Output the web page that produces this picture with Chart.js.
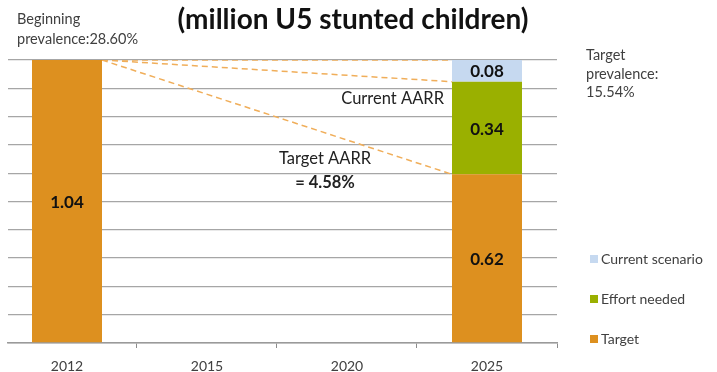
<!DOCTYPE html>
<html>
<head>
<meta charset="utf-8">
<script src="https://cdn.jsdelivr.net/npm/chart.js@4.4.1/dist/chart.umd.min.js"></script>
<style>
  html, body { margin: 0; padding: 0; background: #fff; }
  #wrap { width: 717px; height: 372px; position: relative; }
</style>
</head>
<body>
<div id="wrap"><canvas id="stuntChart" width="717" height="372"></canvas></div>
<script>
const years = ['2012', '2015', '2020', '2025'];
const targetVals = [1.04, 0, 0, 0.62];
const effortVals = [0, 0, 0, 0.34];
const currentVals = [0, 0, 0, 0.08];
const yMax = 1.04;

const FONT = 'Lato, "Open Sans", sans-serif';
const ORANGE = '#DD901F';
const GREEN = '#9AB000';
const BLUE = '#C6D9F0';
const DASH = '#F0AE5A';

const toPts = arr => arr.map((v, i) => ({ x: i, y: v }));

// dashed AARR lines: from top-right of first bar to left edge of last bar
const last = years.length - 1;
const startY = targetVals[0] + effortVals[0] + currentVals[0];
const ends = [
    targetVals[last] + effortVals[last] + currentVals[last],
    targetVals[last] + effortVals[last],
    targetVals[last]
];
const dashLine = (yEnd, key) => ({
    type: 'line',
    stack: key,
    data: [{ x: 0.25, y: startY }, { x: last - 0.25, y: yEnd }],
    borderColor: DASH,
    borderWidth: 1.5,
    borderDash: [6, 4],
    pointRadius: 0,
    fill: false,
    tension: 0
});

const textPlugin = {
    id: 'texts',
    afterDatasetsDraw(chart) {
        const c = chart.ctx;
        c.save();
        c.textBaseline = 'middle';

        // value labels inside bars
        c.textAlign = 'center';
        c.fillStyle = '#111';
        c.font = 'bold 17px ' + FONT;
        chart.data.datasets.forEach((ds, di) => {
            if (ds.type === 'line') return;
            chart.getDatasetMeta(di).data.forEach((el, i) => {
                const v = ds.data[i].y;
                if (!v) return;
                c.fillText(v.toFixed(2), el.x, (el.y + el.base) / 2 + 1);
            });
        });

        // title
        c.fillStyle = '#111';
        c.font = 'bold 28px ' + FONT;
        c.fillText('(million U5 stunted children)', 353, 20);

        c.fillStyle = '#404040';
        c.font = '14.5px ' + FONT;
        c.textAlign = 'left';
        c.fillText('Beginning', 17, 19);
        c.fillText('prevalence:28.60%', 17, 39);
        c.fillText('Target', 586, 55);
        c.fillText('prevalence:', 586, 74);
        c.fillText('15.54%', 586, 92);

        c.fillStyle = '#222';
        c.font = '16.5px ' + FONT;
        c.textAlign = 'right';
        c.fillText('Current AARR', 444, 99);
        c.textAlign = 'center';
        c.fillText('Target AARR', 325, 159);
        c.font = 'bold 16.5px ' + FONT;
        c.fillText('= 4.58%', 325, 183);

        // legend (reverse order)
        const items = chart.data.datasets.filter(d => d.type !== 'line').reverse();
        c.font = '14px ' + FONT;
        c.textAlign = 'left';
        items.forEach((d, k) => {
            const y = 259 + k * 40;
            c.fillStyle = d.backgroundColor;
            c.fillRect(590, y - 4, 8, 8);
            c.fillStyle = '#404040';
            c.fillText(d.label, 601, y);
        });
        c.restore();
    }
};

new Chart(document.getElementById('stuntChart'), {
    type: 'bar',
    data: {
        datasets: [
            { label: 'Target', data: toPts(targetVals), backgroundColor: ORANGE },
            { label: 'Effort needed', data: toPts(effortVals), backgroundColor: GREEN },
            { label: 'Current scenario', data: toPts(currentVals), backgroundColor: BLUE },
            dashLine(ends[0], 'l1'),
            dashLine(ends[1], 'l2'),
            dashLine(ends[2], 'l3')
        ]
    },
    options: {
        responsive: false,
        animation: false,
        devicePixelRatio: 1,
        layout: { padding: { top: 60, left: 8, right: 160, bottom: 0 } },
        datasets: { bar: { barPercentage: 0.5, categoryPercentage: 1.0 } },
        plugins: { legend: { display: false }, tooltip: { enabled: false } },
        scales: {
            x: {
                type: 'linear',
                stacked: true,
                offset: false,
                min: -0.4214,
                max: 3.5,
                afterBuildTicks: s => { s.ticks = years.map((y, i) => ({ value: i })); },
                afterFit: s => { s.height = 29; },
                grid: { offset: true, drawOnChartArea: false, tickLength: 5, color: '#8c8c8c', lineWidth: 1 },
                border: { display: true, color: '#9a9a9a', width: 1.5 },
                ticks: {
                    padding: 10,
                    color: '#404040',
                    font: { family: FONT, size: 14 },
                    callback: v => years[v] ?? ''
                }
            },
            y: {
                stacked: true,
                min: 0,
                max: yMax,
                ticks: { display: false, count: 11 },
                grid: { drawTicks: false, color: '#a6a6a6', lineWidth: 1.3 },
                border: { display: false }
            }
        }
    },
    plugins: [textPlugin]
});
</script>
</body>
</html>
